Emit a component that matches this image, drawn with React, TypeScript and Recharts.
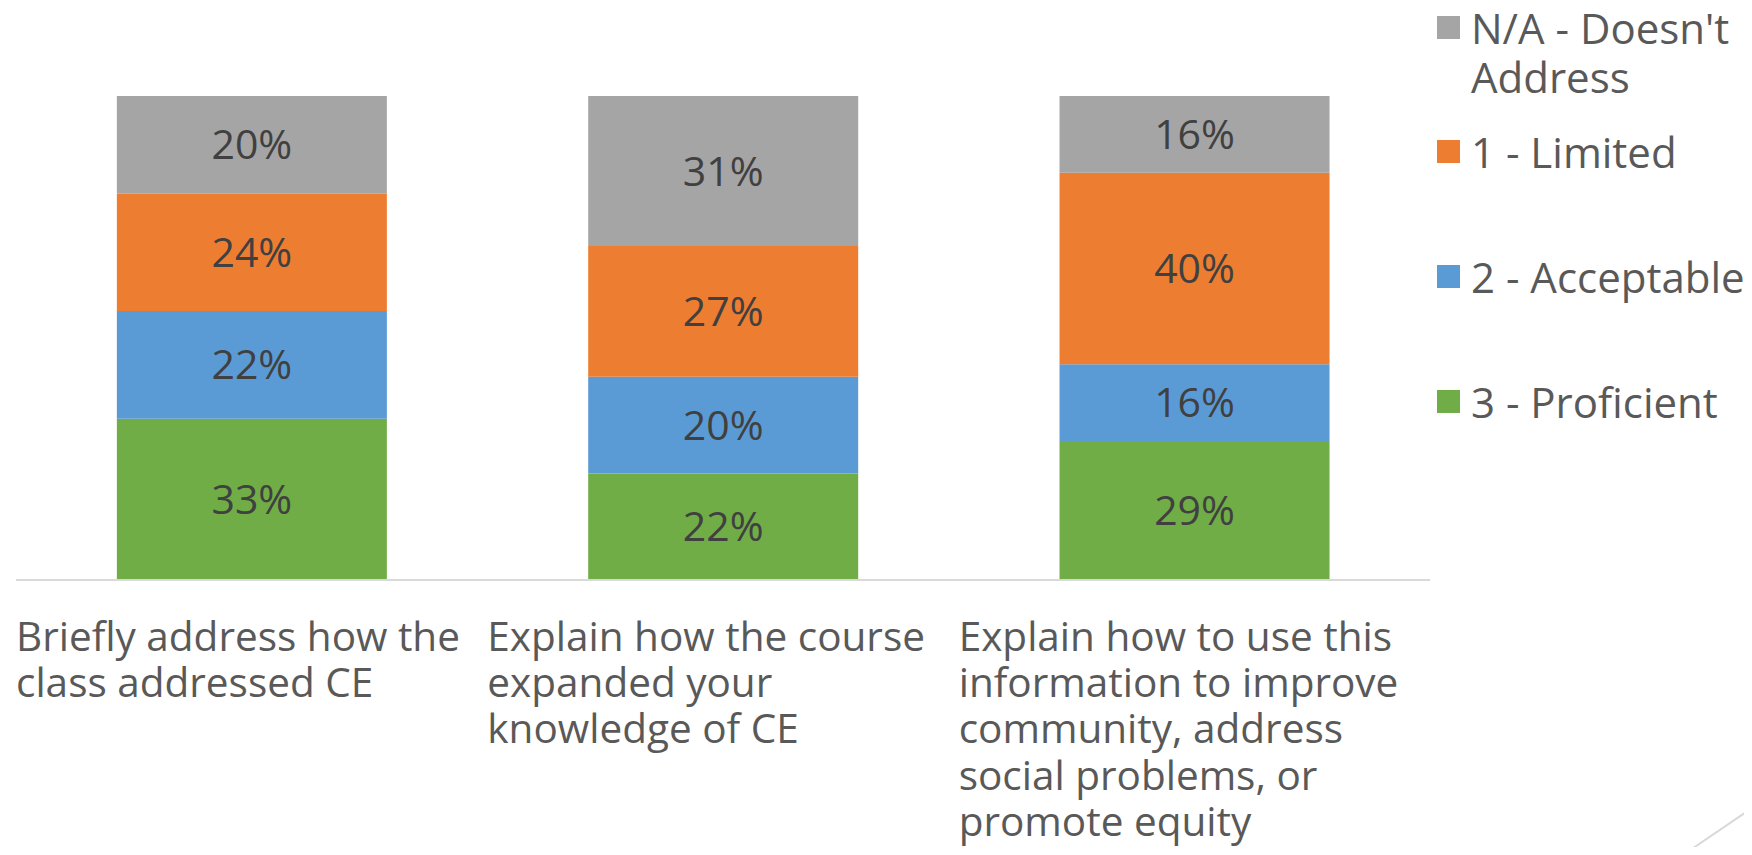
import React from "react";
import { BarChart, Bar, XAxis, YAxis, LabelList } from "recharts";

const categoryLines: string[][] = [
  ["Briefly address how the", "class addressed CE"],
  ["Explain how the course", "expanded your", "knowledge of CE"],
  ["Explain how to use this", "information to improve", "community, address", "social problems, or", "promote equity"],
];
const categories = categoryLines.map((l) => l.join(" "));

const proficient = [33, 22, 29];
const acceptable = [22, 20, 16];
const limited = [24, 27, 40];
const notAddressed = [20, 31, 16];

const seriesNames = ["3 - Proficient", "2 - Acceptable", "1 - Limited", "N/A - Doesn't Address"];
const seriesKeys = ["proficient", "acceptable", "limited", "na"];
const seriesColors = ["#70AD47", "#5B9BD5", "#ED7D31", "#A5A5A5"];
const legendLines: string[][] = [["3 - Proficient"], ["2 - Acceptable"], ["1 - Limited"], ["N/A - Doesn't", "Address"]];

const data = categories.map((c, i) => ({
  name: c,
  proficient: proficient[i],
  acceptable: acceptable[i],
  limited: limited[i],
  na: notAddressed[i],
}));

const W = 1752;
const H = 855;
const M = { top: 96, right: 322, left: 16, bottom: 5 };
const AXIS_H = H - 580 - M.bottom;
const FONT = "'Open Sans', sans-serif";

const Tick = (props: any) => {
  const { x, y, payload, index } = props;
  const band = (W - M.left - M.right) / categories.length;
  const lines = categoryLines[payload.index ?? index] || [payload.value];
  return (
    <g>
      {lines.map((ln: string, k: number) => (
        <text
          key={k}
          x={x - band / 2}
          y={y + 63 + k * 46.2}
          textAnchor="start"
          fill="#595959"
          fontSize={40.5}
          fontFamily={FONT}
        >
          {ln}
        </text>
      ))}
    </g>
  );
};

export default function App() {
  const legendOrder = [3, 2, 1, 0];
  const legendTops = [28, 152, 277, 402];
  return (
    <div style={{ position: "relative", width: W, height: H, margin: -8, background: "#fff", overflow: "hidden" }}>
      <BarChart
        width={W}
        height={H}
        data={data}
        margin={M}
        stackOffset="expand"
        barCategoryGap="21.4%"
      >
        <XAxis
          dataKey="name"
          interval={0}
          height={AXIS_H}
          tickLine={false}
          axisLine={{ stroke: "#D9D9D9", strokeWidth: 2 }}
          tick={<Tick />}
        />
        <YAxis hide domain={[0, 1]} />
        {seriesKeys.map((k, i) => (
          <Bar key={k} dataKey={k} stackId="a" fill={seriesColors[i]} name={seriesNames[i]} isAnimationActive={false}>
            <LabelList
              dataKey={k}
              position="center"
              formatter={(v: any) => `${v}%`}
              fill="#404040"
              fontSize={41}
              fontFamily={FONT}
            />
          </Bar>
        ))}
      </BarChart>
      {legendOrder.map((si, r) => (
        <div
          key={si}
          style={{
            position: "absolute",
            left: 1437,
            top: legendTops[r] - 12,
            display: "flex",
            alignItems: "flex-start",
            fontFamily: FONT,
            fontSize: 42,
            color: "#595959",
          }}
        >
          <div style={{ width: 23, height: 23, background: seriesColors[si], marginRight: 11 }} />
          <div style={{ lineHeight: "49px", marginTop: -13 }}>
            {legendLines[si].map((t, j) => (
              <div key={j} style={{ whiteSpace: "nowrap" }}>{t}</div>
            ))}
          </div>
        </div>
      ))}
      <svg style={{ position: "absolute", left: 0, top: 0 }} width={W} height={H}>
        <line x1={1683} y1={855} x2={1752} y2={808} stroke="#D9D9D9" strokeWidth={2} />
      </svg>
    </div>
  );
}
